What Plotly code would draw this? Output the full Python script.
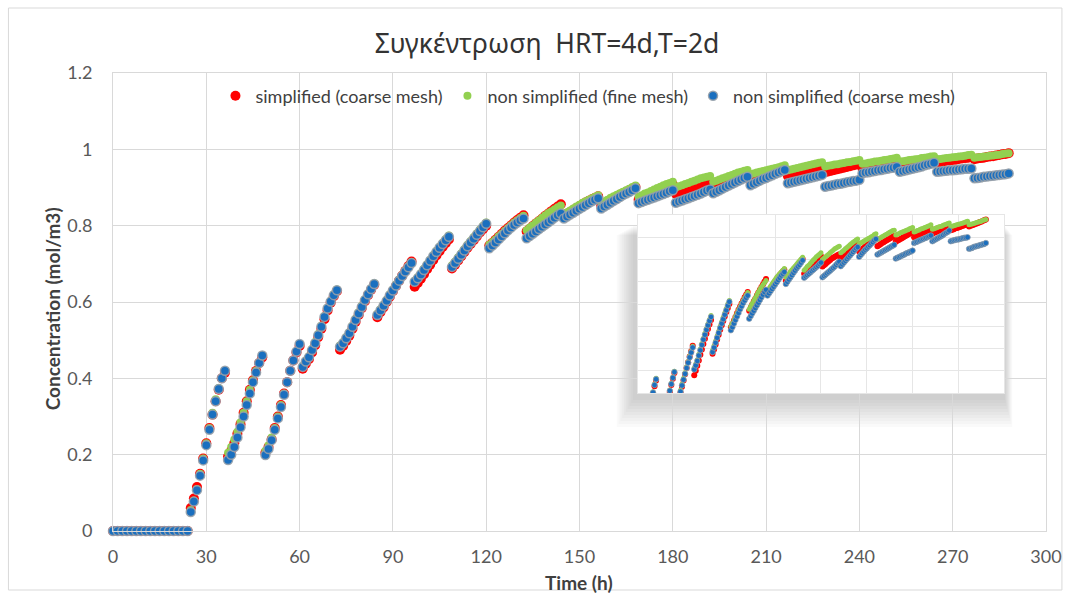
import plotly.graph_objects as go

# ---------------- data ----------------
t_zero = [0, 1.5, 3, 4.5, 6, 7.5, 9, 10.5, 12, 13.5, 15, 16.5, 18, 19.5, 21, 22.5, 24]
c_zero = [0.0] * len(t_zero)
t_cycle = list(range(25, 289))  # hourly samples after feeding starts

blue_seg = [
    [0.050, 0.077, 0.107, 0.145, 0.185, 0.225, 0.265, 0.305, 0.340, 0.372, 0.400, 0.420],
    [0.186, 0.200, 0.220, 0.245, 0.272, 0.300, 0.330, 0.360, 0.390, 0.415, 0.440, 0.460],
    [0.199, 0.215, 0.238, 0.265, 0.295, 0.325, 0.357, 0.390, 0.420, 0.447, 0.470, 0.490],
    [0.430, 0.444, 0.455, 0.474, 0.492, 0.513, 0.535, 0.561, 0.583, 0.601, 0.618, 0.631],
    [0.483, 0.492, 0.505, 0.518, 0.535, 0.553, 0.570, 0.587, 0.605, 0.620, 0.634, 0.647],
    [0.566, 0.578, 0.590, 0.603, 0.617, 0.630, 0.643, 0.656, 0.668, 0.680, 0.691, 0.702],
    [0.653, 0.662, 0.672, 0.684, 0.696, 0.708, 0.720, 0.731, 0.742, 0.752, 0.762, 0.771],
    [0.692, 0.702, 0.713, 0.724, 0.735, 0.746, 0.756, 0.766, 0.776, 0.786, 0.796, 0.805],
    [0.741, 0.748, 0.756, 0.764, 0.772, 0.780, 0.788, 0.795, 0.802, 0.808, 0.814, 0.819],
    [0.767, 0.773, 0.779, 0.785, 0.791, 0.797, 0.803, 0.809, 0.815, 0.821, 0.827, 0.832],
    [0.819, 0.824, 0.829, 0.834, 0.839, 0.844, 0.849, 0.854, 0.859, 0.864, 0.868, 0.872],
    [0.845, 0.850, 0.855, 0.860, 0.865, 0.870, 0.875, 0.880, 0.884, 0.888, 0.893, 0.898],
    [0.859, 0.862, 0.865, 0.868, 0.871, 0.874, 0.877, 0.880, 0.883, 0.886, 0.890, 0.893],
    [0.860, 0.863, 0.866, 0.869, 0.872, 0.875, 0.878, 0.881, 0.884, 0.888, 0.892, 0.895],
    [0.885, 0.889, 0.893, 0.897, 0.901, 0.905, 0.909, 0.913, 0.917, 0.921, 0.925, 0.928],
    [0.906, 0.910, 0.914, 0.918, 0.922, 0.925, 0.929, 0.932, 0.936, 0.939, 0.943, 0.946],
    [0.911, 0.913, 0.915, 0.917, 0.919, 0.921, 0.923, 0.925, 0.927, 0.929, 0.931, 0.933],
    [0.902, 0.904, 0.905, 0.907, 0.909, 0.910, 0.912, 0.914, 0.915, 0.917, 0.918, 0.920],
    [0.937, 0.939, 0.940, 0.942, 0.943, 0.945, 0.946, 0.948, 0.949, 0.951, 0.952, 0.954],
    [0.941, 0.943, 0.945, 0.947, 0.949, 0.951, 0.953, 0.955, 0.958, 0.960, 0.962, 0.965],
    [0.941, 0.942, 0.943, 0.944, 0.945, 0.945, 0.946, 0.947, 0.948, 0.949, 0.949, 0.950],
    [0.924, 0.925, 0.926, 0.928, 0.929, 0.930, 0.931, 0.932, 0.933, 0.934, 0.935, 0.937],
]

green_seg = [
    [0.055, 0.080, 0.110, 0.150, 0.190, 0.230, 0.270, 0.310, 0.345, 0.375, 0.400, 0.420],
    [0.205, 0.220, 0.240, 0.260, 0.285, 0.310, 0.340, 0.370, 0.395, 0.420, 0.440, 0.460],
    [0.210, 0.225, 0.245, 0.270, 0.300, 0.330, 0.360, 0.390, 0.420, 0.447, 0.470, 0.490],
    [0.432, 0.446, 0.458, 0.477, 0.495, 0.516, 0.538, 0.563, 0.585, 0.603, 0.620, 0.633],
    [0.486, 0.495, 0.508, 0.521, 0.538, 0.556, 0.573, 0.590, 0.607, 0.622, 0.636, 0.649],
    [0.569, 0.581, 0.593, 0.606, 0.620, 0.633, 0.646, 0.659, 0.671, 0.683, 0.694, 0.705],
    [0.656, 0.665, 0.675, 0.687, 0.699, 0.711, 0.723, 0.734, 0.745, 0.755, 0.765, 0.774],
    [0.696, 0.706, 0.717, 0.728, 0.739, 0.750, 0.760, 0.770, 0.780, 0.790, 0.800, 0.808],
    [0.750, 0.757, 0.764, 0.772, 0.779, 0.787, 0.794, 0.801, 0.808, 0.814, 0.820, 0.826],
    [0.788, 0.795, 0.801, 0.808, 0.814, 0.821, 0.827, 0.833, 0.838, 0.843, 0.848, 0.853],
    [0.830, 0.835, 0.840, 0.845, 0.850, 0.855, 0.860, 0.864, 0.868, 0.872, 0.876, 0.880],
    [0.860, 0.864, 0.868, 0.873, 0.877, 0.881, 0.885, 0.889, 0.893, 0.897, 0.901, 0.905],
    [0.876, 0.880, 0.884, 0.887, 0.891, 0.895, 0.899, 0.902, 0.906, 0.909, 0.912, 0.915],
    [0.900, 0.903, 0.906, 0.909, 0.912, 0.915, 0.918, 0.921, 0.924, 0.926, 0.928, 0.930],
    [0.915, 0.918, 0.921, 0.924, 0.927, 0.930, 0.933, 0.936, 0.939, 0.941, 0.944, 0.946],
    [0.935, 0.937, 0.939, 0.941, 0.943, 0.945, 0.947, 0.949, 0.951, 0.953, 0.956, 0.958],
    [0.945, 0.947, 0.949, 0.951, 0.953, 0.955, 0.957, 0.959, 0.961, 0.963, 0.965, 0.966],
    [0.955, 0.957, 0.958, 0.960, 0.961, 0.963, 0.964, 0.966, 0.967, 0.969, 0.970, 0.972],
    [0.962, 0.963, 0.965, 0.966, 0.968, 0.969, 0.970, 0.972, 0.973, 0.975, 0.976, 0.978],
    [0.968, 0.969, 0.970, 0.972, 0.973, 0.974, 0.975, 0.977, 0.978, 0.979, 0.981, 0.982],
    [0.974, 0.975, 0.976, 0.977, 0.978, 0.979, 0.980, 0.981, 0.982, 0.983, 0.985, 0.986],
    [0.978, 0.979, 0.980, 0.981, 0.982, 0.983, 0.984, 0.985, 0.986, 0.988, 0.989, 0.990],
]

red_seg = [
    [0.060, 0.085, 0.115, 0.150, 0.190, 0.230, 0.270, 0.305, 0.340, 0.370, 0.400, 0.415],
    [0.195, 0.210, 0.230, 0.255, 0.280, 0.310, 0.340, 0.370, 0.395, 0.420, 0.440, 0.455],
    [0.205, 0.220, 0.240, 0.270, 0.300, 0.330, 0.360, 0.390, 0.420, 0.447, 0.468, 0.485],
    [0.425, 0.438, 0.450, 0.468, 0.487, 0.508, 0.530, 0.555, 0.578, 0.598, 0.615, 0.628],
    [0.475, 0.485, 0.498, 0.512, 0.530, 0.548, 0.566, 0.584, 0.602, 0.618, 0.632, 0.645],
    [0.560, 0.573, 0.586, 0.600, 0.614, 0.628, 0.642, 0.656, 0.669, 0.682, 0.694, 0.706],
    [0.640, 0.650, 0.661, 0.673, 0.686, 0.698, 0.710, 0.722, 0.733, 0.744, 0.754, 0.764],
    [0.688, 0.698, 0.709, 0.720, 0.731, 0.742, 0.752, 0.762, 0.772, 0.782, 0.791, 0.800],
    [0.748, 0.755, 0.763, 0.771, 0.779, 0.787, 0.794, 0.801, 0.808, 0.815, 0.821, 0.827],
    [0.785, 0.792, 0.799, 0.806, 0.812, 0.819, 0.826, 0.832, 0.838, 0.844, 0.850, 0.856],
    [0.826, 0.831, 0.836, 0.841, 0.846, 0.851, 0.856, 0.861, 0.865, 0.869, 0.873, 0.877],
    [0.852, 0.857, 0.862, 0.867, 0.872, 0.876, 0.881, 0.885, 0.889, 0.893, 0.897, 0.901],
    [0.868, 0.872, 0.876, 0.880, 0.884, 0.888, 0.891, 0.895, 0.899, 0.902, 0.905, 0.908],
    [0.884, 0.887, 0.890, 0.893, 0.896, 0.899, 0.902, 0.904, 0.906, 0.908, 0.910, 0.912],
    [0.900, 0.903, 0.906, 0.909, 0.912, 0.915, 0.918, 0.921, 0.924, 0.927, 0.930, 0.934],
    [0.918, 0.921, 0.923, 0.926, 0.929, 0.931, 0.934, 0.936, 0.939, 0.941, 0.944, 0.946],
    [0.930, 0.932, 0.934, 0.937, 0.939, 0.941, 0.943, 0.945, 0.947, 0.949, 0.951, 0.953],
    [0.940, 0.942, 0.944, 0.946, 0.948, 0.950, 0.952, 0.954, 0.956, 0.958, 0.960, 0.962],
    [0.950, 0.952, 0.954, 0.955, 0.957, 0.959, 0.960, 0.962, 0.964, 0.965, 0.967, 0.969],
    [0.958, 0.960, 0.961, 0.963, 0.964, 0.966, 0.967, 0.969, 0.970, 0.972, 0.973, 0.975],
    [0.966, 0.967, 0.968, 0.970, 0.971, 0.972, 0.973, 0.975, 0.976, 0.977, 0.978, 0.980],
    [0.974, 0.976, 0.977, 0.978, 0.980, 0.981, 0.982, 0.984, 0.985, 0.987, 0.988, 0.990],
]

names = ["simplified (coarse mesh)", "non simplified (fine mesh)", "non simplified (coarse mesh)"]
x_ticks = [0, 30, 60, 90, 120, 150, 180, 210, 240, 270, 300]
y_ticks = [0, 0.2, 0.4, 0.6, 0.8, 1.0, 1.2]
inset_x_ticks = [60, 90, 120, 150, 180, 210, 240, 270, 300]
inset_y_ticks = [0.6, 0.65, 0.7, 0.75, 0.8, 0.85, 0.9, 0.95, 1.0]

# ---------------- build ----------------
def flat(segs):
    out = []
    for s in segs:
        out.extend(s)
    return out

t_all = t_zero + t_cycle
red = c_zero + flat(red_seg)
green = c_zero + flat(green_seg)
blue = c_zero + flat(blue_seg)

W, H = 1074, 597
ML, MR, MT, MB = 113, 24, 73, 66
PW, PH = W - ML - MR, H - MT - MB

def px(x):
    return (x - ML) / PW

def py(y):
    return (H - MB - y) / PH

RED = "#ff0000"
GREEN = "#92d050"
BLUE = "#1a6fbf"

fig = go.Figure()

styles = [
    dict(color=RED, size=10),
    dict(color=GREEN, size=8),
    dict(color=BLUE, size=9, line=dict(color="rgba(150,160,170,0.9)", width=1.5)),
]
series = [red, green, blue]

for nm, ys, st in zip(names, series, styles):
    fig.add_trace(go.Scatter(x=t_all, y=ys, mode="markers", name=nm, marker=st,
                             cliponaxis=False))

inset_styles = [
    dict(color=RED, size=6),
    dict(color=GREEN, size=5),
    dict(color=BLUE, size=5.5, line=dict(color="rgba(150,160,170,0.9)", width=0.8)),
]
for nm, ys, st in zip(names, series, inset_styles):
    fig.add_trace(go.Scatter(x=t_all, y=ys, mode="markers", name=nm, marker=st,
                             showlegend=False, xaxis="x2", yaxis="y2", cliponaxis=True))

GRID = "#d9d9d9"
TICKC = "#595959"
FONT = "Lato, 'Open Sans', sans-serif"

shapes = []
# outer chart frame
shapes.append(dict(type="rect", xref="paper", yref="paper", x0=px(8), x1=px(1066),
                   y0=py(590), y1=py(8), line=dict(color="#d9d9d9", width=1),
                   fillcolor="rgba(0,0,0,0)", layer="below"))
# inset shadow (soft, down-left)
ix0, ix1, iy0, iy1 = 640, 1008, 215, 393
for k in range(1, 11):
    shapes.append(dict(type="rect", xref="paper", yref="paper",
                       x0=px(ix0 - 3 - k * 1.8), x1=px(ix1 + k * 0.8),
                       y0=py(iy1 + 4 + k * 3.0), y1=py(iy0 + 10 + k * 1.0),
                       line=dict(width=0), fillcolor="rgba(80,80,80,0.028)", layer="below"))

annotations = [
    dict(text="<b>Time (h)</b>", x=px(581), y=py(582), xref="paper", yref="paper",
         showarrow=False, font=dict(family=FONT, size=19, color="#404040"),
         xanchor="center", yanchor="middle"),
    dict(text="<b>Concentration (mol/m3)</b>", x=px(52), y=py(309), xref="paper", yref="paper",
         showarrow=False, textangle=-90, font=dict(family=FONT, size=19, color="#404040"),
         xanchor="center", yanchor="middle"),
]

fig.update_layout(
    width=W, height=H,
    margin=dict(l=ML, r=MR, t=MT, b=MB),
    paper_bgcolor="white", plot_bgcolor="white",
    title=dict(text="Συγκέντρωση  HRT=4d,T=2d", x=547 / W, xanchor="center",
               y=1 - 44 / H, yanchor="middle",
               font=dict(family="'Noto Sans', 'Open Sans', sans-serif", size=26.5, color="#333333")),
    xaxis=dict(range=[0, 300], tickvals=x_ticks, showgrid=True, gridcolor=GRID, gridwidth=1,
               zeroline=False, showline=True, linecolor=GRID, mirror=True,
               tickfont=dict(family=FONT, size=18, color=TICKC), ticks="",
               ticklabelstandoff=9, domain=[0, 1]),
    yaxis=dict(range=[0, 1.2], tickvals=y_ticks, showgrid=True, gridcolor=GRID, gridwidth=1,
               zeroline=False, showline=True, linecolor=GRID, mirror=True,
               tickfont=dict(family=FONT, size=18, color=TICKC), ticks="",
               ticklabelstandoff=16, domain=[0, 1]),
    xaxis2=dict(range=[60, 300], tickvals=inset_x_ticks, showgrid=True, gridcolor="#e6e6e6",
                zeroline=False, showline=True, linecolor="#e6e6e6", mirror=True,
                showticklabels=False, ticks="", domain=[px(ix0), px(ix1)], anchor="y2"),
    yaxis2=dict(range=[0.6, 1.0], tickvals=inset_y_ticks, showgrid=True, gridcolor="#e6e6e6",
                zeroline=False, showline=True, linecolor="#e6e6e6", mirror=True,
                showticklabels=False, ticks="", domain=[py(iy1), py(iy0)], anchor="x2"),
    legend=dict(orientation="h", x=px(590), xanchor="center", y=py(96), yanchor="middle",
                font=dict(family=FONT, size=18, color="#404040"), bgcolor="rgba(0,0,0,0)",
                itemwidth=30, tracegroupgap=0),
    shapes=shapes,
    annotations=annotations,
    showlegend=True,
)

fig.write_html("out.html")
